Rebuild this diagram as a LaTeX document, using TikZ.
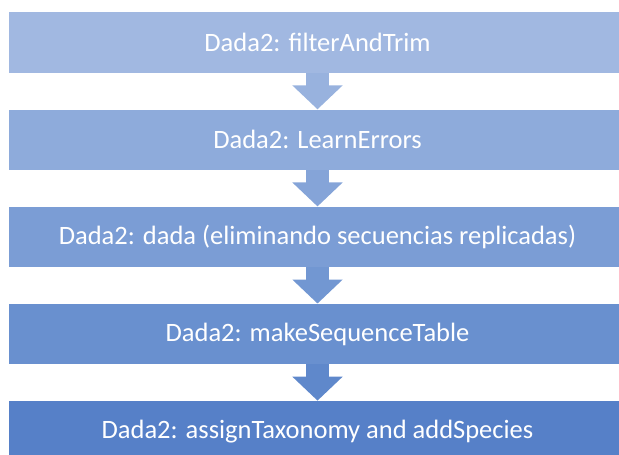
\documentclass[tikz,border=0pt]{standalone}
\usepackage{fontspec}
\setmainfont{Carlito}
\usepackage{tikz}
\usetikzlibrary{arrows.meta}
\definecolor{c0}{HTML}{A1B8E1}
\definecolor{c1}{HTML}{8EABDB}
\definecolor{c2}{HTML}{7B9DD5}
\definecolor{c3}{HTML}{6990CF}
\definecolor{c4}{HTML}{5680C8}
\definecolor{a0}{HTML}{98B2DE}
\definecolor{a1}{HTML}{85A4D8}
\definecolor{a2}{HTML}{7297D2}
\definecolor{a3}{HTML}{5F88CB}
\tikzset{
    % one step of the pipeline
    stepbox/.style={
        draw=none, text=white, inner sep=0pt,
        minimum width=617pt, minimum height=60.5pt,
        font=\fontsize{26.5}{30}\selectfont
    },
    % block arrow between two steps
    flowarrow/.style={
        line width=23pt,
        -{Triangle[width=49pt, length=24pt]}
    }
}
\begin{document}
\begin{tikzpicture}[x=1pt, y=1pt]
            \useasboundingbox (0,0) rectangle (619,455);
            \clip (0,0) rectangle (619,455);
            \foreach \i/\txt in {0/{Dada2: filterAndTrim},
                                 1/{Dada2: LearnErrors},
                                 2/{Dada2: dada (eliminando secuencias replicadas)},
                                 3/{Dada2: makeSequenceTable},
                                 4/{Dada2: assignTaxonomy and addSpecies}} {
                \node (b\i) at (317.5, 412.3-97.1*\i)[stepbox, fill=c\i]{\txt};
            }
            \foreach \i [evaluate=\i as \j using int(\i+1)] in {0,...,3} {
                \draw[flowarrow, draw=a\i, fill=a\i] (b\i) -- (b\j);
            }
        \end{tikzpicture}
\end{document}
